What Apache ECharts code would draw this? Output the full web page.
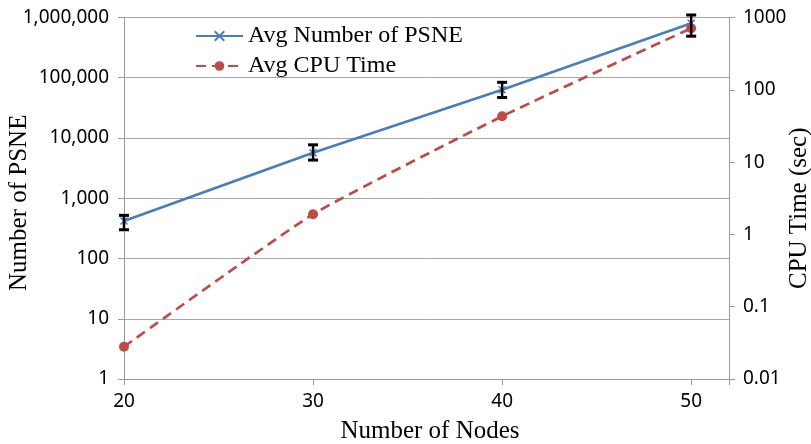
<!DOCTYPE html>
<html>
<head>
<meta charset="utf-8">
<script src="https://cdn.jsdelivr.net/npm/echarts@6/dist/echarts.min.js"></script>
<style>
html,body{margin:0;padding:0;background:#fff;}
#chart{width:811px;height:444px;}
</style>
</head>
<body>
<div id="chart"></div>
<script>
var nodes = [20, 30, 40, 50];
var psneAvg = [420, 5700, 63000, 800000];
var psneLow = [300, 4300, 47000, 490000];
var psneHigh = [520, 7700, 84000, 1100000];
var cpuAvg = [0.028, 1.9, 43, 710];

var blue = '#4A7EBB';
var red = '#BE4B48';
var axisGrey = '#9a9a9a';
var tickFont = {fontFamily: 'Noto Sans', fontSize: 19, color: '#000'};
var serif = 'Liberation Serif';

function withCommas(v) {
  return String(Math.round(v)).replace(/\B(?=(\d{3})+(?!\d))/g, ',');
}

var psneData = nodes.map(function (n, i) { return [n, psneAvg[i]]; });
var cpuData = nodes.map(function (n, i) { return [n, cpuAvg[i]]; });
var errData = nodes.map(function (n, i) { return [n, psneLow[i], psneHigh[i]]; });

var chart = echarts.init(document.getElementById('chart'));
chart.setOption({
  animation: false,
  backgroundColor: '#fff',
  grid: {left: 124, right: 82, top: 17.5, bottom: 65, containLabel: false, outerBoundsMode: 'none'},
  legend: {
    orient: 'vertical',
    left: 190,
    top: 19,
    itemWidth: 47,
    itemHeight: 12,
    itemGap: 6,
    textStyle: {fontFamily: serif, fontSize: 24, lineHeight: 24, color: '#000'},
    data: ['Avg Number of PSNE', 'Avg CPU Time']
  },
  xAxis: {
    type: 'value',
    min: 20,
    max: 52,
    interval: 10,
    name: 'Number of Nodes',
    nameLocation: 'middle',
    nameGap: 40,
    nameMoveOverlap: false,
    nameTextStyle: {fontFamily: serif, fontSize: 25, color: '#000', padding: [0, 0, 0, 7]},
    axisLine: {show: true, lineStyle: {color: axisGrey, width: 1}},
    axisTick: {show: true, inside: false, length: 6, lineStyle: {color: axisGrey}},
    axisLabel: Object.assign({margin: 13, formatter: function (v) { return v % 10 === 0 ? String(v) : ''; }}, tickFont),
    splitLine: {show: false}
  },
  yAxis: [{
    type: 'log',
    logBase: 10,
    min: 1,
    max: 1000000,
    position: 'left',
    name: 'Number of PSNE',
    nameLocation: 'middle',
    nameGap: 92,
    nameMoveOverlap: false,
    nameTextStyle: {fontFamily: serif, fontSize: 25, color: '#000', padding: [0, 9, 0, 0]},
    axisLine: {show: true, lineStyle: {color: axisGrey, width: 1}},
    axisTick: {show: true, length: 6, lineStyle: {color: axisGrey}},
    axisLabel: Object.assign({margin: 15, formatter: function (v) { return withCommas(v); }}, tickFont),
    splitLine: {show: true, lineStyle: {color: '#a6a6a6', width: 1}},
    minorTick: {show: false},
    minorSplitLine: {show: false}
  }, {
    type: 'log',
    logBase: 10,
    min: 0.01,
    max: 1000,
    position: 'right',
    name: 'CPU Time (sec)',
    nameLocation: 'middle',
    nameGap: 58,
    nameMoveOverlap: false,
    nameTextStyle: {fontFamily: serif, fontSize: 25, color: '#000', padding: [0, 20, 0, 0]},
    axisLine: {show: true, lineStyle: {color: axisGrey, width: 1}},
    axisTick: {show: true, length: 6, lineStyle: {color: axisGrey}},
    axisLabel: Object.assign({margin: 14, formatter: function (v) {
      if (v >= 1) return String(Math.round(v));
      return String(parseFloat(v.toPrecision(2)));
    }}, tickFont),
    splitLine: {show: false}
  }],
  series: [{
    name: 'Avg Number of PSNE',
    type: 'line',
    yAxisIndex: 0,
    data: psneData,
    symbol: 'path://M0,0L10,10M10,0L0,10',
    symbolSize: 7,
    showSymbol: true,
    lineStyle: {color: blue, width: 2.7},
    itemStyle: {color: blue, borderColor: blue, borderWidth: 1.5},
    z: 3
  }, {
    name: 'Avg CPU Time',
    type: 'line',
    yAxisIndex: 1,
    data: cpuData,
    smooth: 0.15,
    symbol: 'circle',
    symbolSize: 10,
    lineStyle: {color: red, width: 2.7, type: [10, 6]},
    itemStyle: {color: red},
    z: 3
  }, {
    name: 'errors',
    type: 'custom',
    yAxisIndex: 0,
    data: errData,
    clip: false,
    z: 4,
    renderItem: function (params, api) {
      var x = api.value(0);
      var lo = api.coord([x, api.value(1)]);
      var hi = api.coord([x, api.value(2)]);
      var cw = 5;
      return {
        type: 'group',
        children: [
          {type: 'line', shape: {x1: lo[0], y1: lo[1], x2: hi[0], y2: hi[1]}, style: {stroke: '#000', lineWidth: 2.5}},
          {type: 'line', shape: {x1: lo[0] - cw, y1: lo[1], x2: lo[0] + cw, y2: lo[1]}, style: {stroke: '#000', lineWidth: 3}},
          {type: 'line', shape: {x1: hi[0] - cw, y1: hi[1], x2: hi[0] + cw, y2: hi[1]}, style: {stroke: '#000', lineWidth: 3}}
        ]
      };
    }
  }]
});
</script>
</body>
</html>
